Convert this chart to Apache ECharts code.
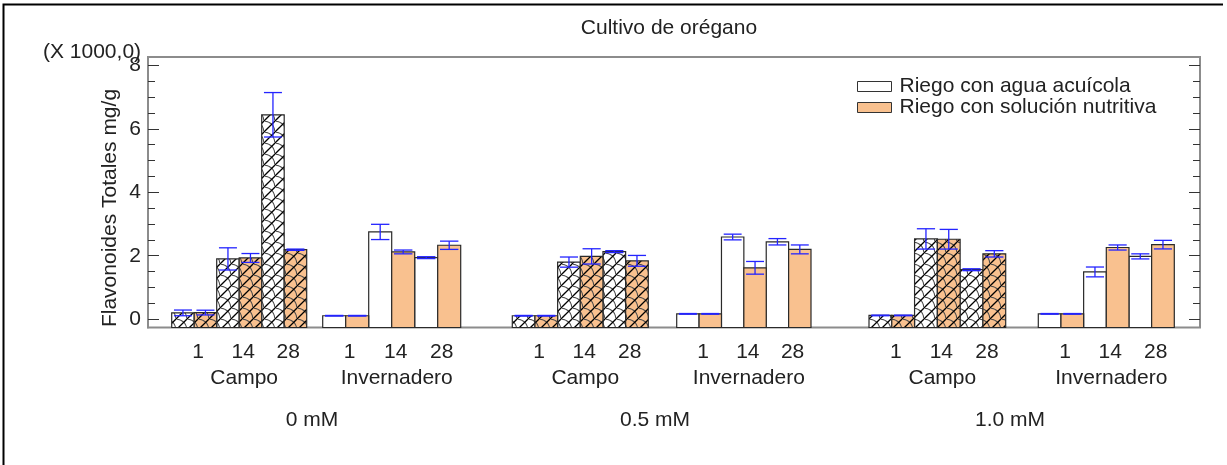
<!DOCTYPE html>
<html>
<head>
<meta charset="utf-8">
<title>Cultivo de orégano</title>
<script src="https://cdn.jsdelivr.net/npm/echarts@6/dist/echarts.min.js"></script>
<style>
  html, body { margin: 0; padding: 0; background: #fff; }
  #chart { width: 1227px; height: 465px; }
</style>
</head>
<body>
<div id="chart"></div>
<script>
// ---- data (flavonoides totales, x 1000 mg/g) ----
const days = ['1', '14', '28'];
const locations = ['Campo', 'Invernadero'];
const concentrations = ['0 mM', '0.5 mM', '1.0 mM'];
const seriesNames = ['Riego con agua acuícola', 'Riego con solución nutritiva'];
const yTicks = [0, 2, 4, 6, 8];
const yMinorTicks = [0.5, 1, 1.5, 2.5, 3, 3.5, 4.5, 5, 5.5, 6.5, 7, 7.5];

// one row per panel: 0 mM Campo, 0 mM Invernadero, 0.5 mM Campo,
// 0.5 mM Invernadero, 1.0 mM Campo, 1.0 mM Invernadero; columns = days
const acuicolaMean = [
  [0.20, 1.90, 6.44],
  [0.11, 2.75, 1.94],
  [0.11, 1.80, 2.13],
  [0.17, 2.59, 2.44],
  [0.12, 2.53, 1.56],
  [0.17, 1.49, 1.98]
];
const acuicolaErr = [
  [0.09, 0.35, 0.70],
  [0.01, 0.24, 0.03],
  [0.01, 0.16, 0.03],
  [0.01, 0.09, 0.10],
  [0.01, 0.32, 0.03],
  [0.01, 0.155, 0.08]
];
const nutritivaMean = [
  [0.21, 1.93, 2.19],
  [0.11, 2.12, 2.33],
  [0.11, 1.98, 1.84],
  [0.17, 1.62, 2.20],
  [0.12, 2.52, 2.06],
  [0.17, 2.26, 2.35]
];
const nutritivaErr = [
  [0.075, 0.14, 0.02],
  [0.01, 0.06, 0.13],
  [0.01, 0.24, 0.17],
  [0.01, 0.20, 0.14],
  [0.01, 0.31, 0.10],
  [0.01, 0.08, 0.135]
];

// ---- layout ----
const FONT = '"Liberation Sans", Arial, sans-serif';
const Y_MIN = -0.26, Y_MAX = 8.26;
const PLOT = { left: 148, right: 27, top: 57, bottom: 137.5 };
const panelLeft = [171.7, 322.7, 512.3, 676.7, 869, 1038.3];
const panelWidth = [135, 138, 136, 134.3, 136.7, 136];
const concLabelX = [312, 655, 1010];
const WHITE = '#ffffff', ORANGE = '#f9c18f';

// chain-link hatch used for the Campo bars
function hatchTile(bg) {
  const n = 11;
  const c = document.createElement('canvas');
  c.width = n; c.height = n;
  const g = c.getContext('2d');
  g.fillStyle = bg;
  g.fillRect(0, 0, n, n);
  g.strokeStyle = '#4a4a4a';
  g.lineWidth = 1.1;
  g.beginPath(); g.moveTo(0, 0); g.quadraticCurveTo(n - 1, 1, n, n); g.stroke();
  g.strokeStyle = '#000';
  g.lineWidth = 1.3;
  g.beginPath(); g.moveTo(-1, n + 1); g.lineTo(n + 1, -1); g.stroke();
  return c;
}
const hatchWhite = { image: hatchTile(WHITE), repeat: 'repeat' };
const hatchOrange = { image: hatchTile(ORANGE), repeat: 'repeat' };

const chart = echarts.init(document.getElementById('chart'), null, { renderer: 'canvas' });

const grids = [Object.assign({ show: true, borderColor: '#8c8c8c', borderWidth: 2, backgroundColor: 'transparent' }, PLOT)];
const xAxes = [{ gridIndex: 0, type: 'value', show: false, min: 0, max: 1 }];
const yAxes = [];

function mainY(position, ticks, len, withLabels) {
  return {
    gridIndex: 0, type: 'value', position: position, min: Y_MIN, max: Y_MAX,
    axisLine: { show: withLabels, lineStyle: { color: '#8c8c8c', width: 2 } },
    axisTick: { show: true, inside: true, length: len, customValues: ticks, lineStyle: { color: '#333', width: 1 } },
    axisLabel: withLabels && position === 'left'
      ? { show: true, customValues: yTicks, fontFamily: FONT, fontSize: 21, color: '#222', margin: 7 }
      : { show: false },
    splitLine: { show: false }
  };
}
yAxes.push(mainY('left', yTicks, 11, true));
yAxes.push(mainY('left', yMinorTicks, 7, false));
yAxes.push(mainY('right', yTicks, 11, false));
yAxes.push(mainY('right', yMinorTicks, 7, false));

panelLeft.forEach((left, p) => {
  grids.push({ left: left, width: panelWidth[p], top: PLOT.top, bottom: PLOT.bottom });
  xAxes.push({
    gridIndex: p + 1, type: 'category', data: days,
    axisLine: { show: false }, axisTick: { show: false },
    axisLabel: { fontFamily: FONT, fontSize: 21, color: '#222', margin: 14, padding: [0, 0, 0, 8] },
    name: locations[p % 2], nameLocation: 'middle', nameGap: 40,
    nameTextStyle: { fontFamily: FONT, fontSize: 21, color: '#222', padding: [0, 0, 0, 10] }
  });
  yAxes.push({ gridIndex: p + 1, type: 'value', min: Y_MIN, max: Y_MAX, show: false });
});

function barSeries(p, s) {
  const mean = s === 0 ? acuicolaMean : nutritivaMean;
  const err = s === 0 ? acuicolaErr : nutritivaErr;
  const campo = p % 2 === 0;
  const fill = s === 0 ? (campo ? hatchWhite : WHITE) : (campo ? hatchOrange : ORANGE);
  return {
    type: 'custom',
    name: seriesNames[s],
    xAxisIndex: p + 1,
    yAxisIndex: p + 4,
    itemStyle: { color: s === 0 ? WHITE : ORANGE, borderColor: '#333' },
    data: days.map((d, i) => [i, mean[p][i], err[p][i]]),
    encode: { x: 0, y: 1 },
    renderItem: function (params, api) {
      const cat = api.value(0), v = api.value(1), e = api.value(2);
      const band = api.size([1, 0])[0];
      const barW = band / 2;
      const top = api.coord([cat, v]);
      const base = api.coord([cat, Y_MIN])[1];
      const x0 = top[0] - band / 2 + s * barW;
      const xc = x0 + barW / 2;
      const yHi = api.coord([cat, v + e])[1];
      const yLo = api.coord([cat, v - e])[1];
      const cap = barW * 0.4;
      const blue = { stroke: '#2424ff', lineWidth: 1.3 };
      return {
        type: 'group',
        children: [
          { type: 'rect', shape: { x: x0, y: top[1], width: barW, height: base - top[1] },
            style: { fill: fill, stroke: '#2a2a2a', lineWidth: 1.2 } },
          { type: 'line', shape: { x1: xc, y1: yHi, x2: xc, y2: yLo }, style: blue },
          { type: 'line', shape: { x1: xc - cap, y1: yHi, x2: xc + cap, y2: yHi }, style: blue },
          { type: 'line', shape: { x1: xc - cap, y1: yLo, x2: xc + cap, y2: yLo }, style: blue }
        ]
      };
    }
  };
}

const series = [];
panelLeft.forEach((l, p) => { series.push(barSeries(p, 0)); series.push(barSeries(p, 1)); });

const textStyle = { fontFamily: FONT, fontSize: 21, fill: '#222' };
const graphic = [
  { type: 'polyline', shape: { points: [[3.5, 466], [3.5, 4.5], [1223, 4.5]] },
    style: { stroke: '#000', lineWidth: 2, fill: null }, silent: true },
  { type: 'text', x: 669, y: 28, style: Object.assign({ text: 'Cultivo de orégano', align: 'center', verticalAlign: 'middle' }, textStyle) },
  { type: 'text', x: 43, y: 52, style: Object.assign({ text: '(X 1000,0)', align: 'left', verticalAlign: 'middle' }, textStyle) },
  { type: 'text', x: 110, y: 208, rotation: Math.PI / 2,
    style: Object.assign({ text: 'Flavonoides Totales mg/g', align: 'center', verticalAlign: 'middle' }, textStyle) }
];
concentrations.forEach((c, k) => {
  graphic.push({ type: 'text', x: concLabelX[k], y: 420,
    style: Object.assign({ text: c, align: 'center', verticalAlign: 'middle' }, textStyle) });
});

chart.setOption({
  animation: false,
  backgroundColor: '#fff',
  grid: grids,
  xAxis: xAxes,
  yAxis: yAxes,
  legend: {
    orient: 'vertical', left: 852, top: 71,
    itemWidth: 34, itemHeight: 10, itemGap: 0, icon: 'rect',
    textStyle: { fontFamily: FONT, fontSize: 21, lineHeight: 19, color: '#222', padding: [0, 0, 0, 3] },
    data: [
      { name: seriesNames[0], itemStyle: { color: WHITE, borderColor: '#333', borderWidth: 1 } },
      { name: seriesNames[1], itemStyle: { color: ORANGE, borderColor: '#333', borderWidth: 1 } }
    ]
  },
  graphic: graphic,
  series: series
});
</script>
</body>
</html>
